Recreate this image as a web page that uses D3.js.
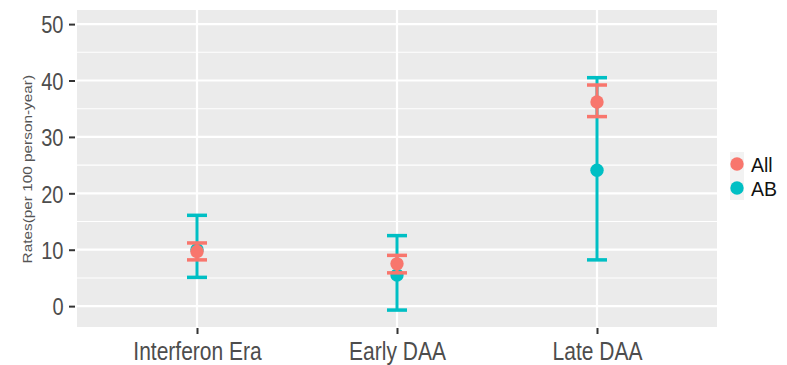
<!DOCTYPE html>
<html>
<head>
<meta charset="utf-8">
<script src="https://cdn.jsdelivr.net/npm/d3@7"></script>
<style>
  body { margin: 0; background: #fff; }
  svg { display: block; font-family: "Liberation Sans", Arial, sans-serif; }
</style>
</head>
<body>
<svg id="chart" width="787" height="365"></svg>
<script>
// Treatment eras on the x axis
const categories = ["Interferon Era", "Early DAA", "Late DAA"];
// Series drawn in this order (AB underneath, All on top)
const seriesNames = ["AB", "All"];
const seriesColors = { All: "#F8766D", AB: "#00BFC4" };
// Rates per 100 person-years with lower / upper confidence limits
const allRate  = [9.7, 7.5, 36.2];
const allLower = [8.2, 5.9, 33.6];
const allUpper = [11.2, 9.0, 39.2];
const abRate   = [10.0, 5.5, 24.1];
const abLower  = [5.1, -0.7, 8.2];
const abUpper  = [16.1, 12.5, 40.5];
const yTicks = [0, 10, 20, 30, 40, 50];
const yMinor = [5, 15, 25, 35, 45];
const legendOrder = ["All", "AB"];

const seriesData = {
  All: categories.map((c, i) => ({ cat: c, v: allRate[i], lo: allLower[i], hi: allUpper[i] })),
  AB:  categories.map((c, i) => ({ cat: c, v: abRate[i],  lo: abLower[i],  hi: abUpper[i] }))
};

// Text is rendered with a slight vertical stretch
const stretch = 1.22;
const xLabelSize = 21;
const yLabelSize = 20;
const legendSize = 19.5;
const legendStretch = 1.06;

const svg = d3.select("#chart");
const panel = { left: 77, right: 717, top: 10, bottom: 327 };

const x = d3.scalePoint().domain(categories)
  .range([panel.left, panel.right]).padding(0.6);
const y = d3.scaleLinear().domain([-3.7, 52.5])
  .range([panel.bottom, panel.top]);

// Panel background
svg.append("rect")
  .attr("x", panel.left).attr("y", panel.top)
  .attr("width", panel.right - panel.left).attr("height", panel.bottom - panel.top)
  .attr("fill", "#EBEBEB");

// Grid lines
svg.append("g").selectAll("line").data(yMinor).join("line")
  .attr("x1", panel.left).attr("x2", panel.right)
  .attr("y1", d => y(d)).attr("y2", d => y(d))
  .attr("stroke", "#fff").attr("stroke-width", 1.1);
svg.append("g").selectAll("line").data(yTicks).join("line")
  .attr("x1", panel.left).attr("x2", panel.right)
  .attr("y1", d => y(d)).attr("y2", d => y(d))
  .attr("stroke", "#fff").attr("stroke-width", 2.2);
svg.append("g").selectAll("line").data(categories).join("line")
  .attr("x1", d => x(d)).attr("x2", d => x(d))
  .attr("y1", panel.top).attr("y2", panel.bottom)
  .attr("stroke", "#fff").attr("stroke-width", 2.2);

// Axes
const yAxis = svg.append("g")
  .attr("transform", `translate(${panel.left - 2},0)`)
  .call(d3.axisLeft(y).tickValues(yTicks).tickSize(6));
const xAxis = svg.append("g")
  .attr("transform", `translate(0,${panel.bottom + 1})`)
  .call(d3.axisBottom(x).tickSize(6));
[yAxis, xAxis].forEach(a => {
  a.select(".domain").remove();
  a.selectAll(".tick line").attr("stroke", "#333").attr("stroke-width", 2);
  a.selectAll(".tick text").attr("fill", "#4D4D4D")
    .attr("font-family", "Liberation Sans, Arial, sans-serif")
    .attr("x", null).attr("y", 0).attr("dy", 0);
});
yAxis.selectAll(".tick text")
  .attr("font-size", yLabelSize)
  .attr("text-anchor", "end")
  .attr("transform", `translate(-11.5,${0.716 * yLabelSize * stretch / 2}) scale(1,${stretch})`);
xAxis.selectAll(".tick text")
  .attr("font-size", xLabelSize)
  .attr("text-anchor", "middle")
  .attr("transform", `translate(0,31.5) scale(1,${stretch})`);

// Y axis title
svg.append("text")
  .attr("transform", `translate(31.5,${(panel.top + panel.bottom) / 2 + 0.7}) scale(1,1.28) rotate(-90)`)
  .attr("text-anchor", "middle")
  .attr("font-size", 12)
  .attr("fill", "#555")
  .text("Rates(per 100 person-year)");

// Error bars and points
const capHalf = 10;
seriesNames.forEach(name => {
  const g = svg.append("g");
  const col = seriesColors[name];
  const d = seriesData[name];
  g.selectAll(".stem").data(d).join("line")
    .attr("x1", e => x(e.cat)).attr("x2", e => x(e.cat))
    .attr("y1", e => y(e.lo)).attr("y2", e => y(e.hi))
    .attr("stroke", col).attr("stroke-width", 3);
  ["lo", "hi"].forEach(k => {
    g.selectAll(".cap-" + k).data(d).join("line")
      .attr("x1", e => x(e.cat) - capHalf).attr("x2", e => x(e.cat) + capHalf)
      .attr("y1", e => y(e[k])).attr("y2", e => y(e[k]))
      .attr("stroke", col).attr("stroke-width", 3.5);
  });
  g.selectAll("circle").data(d).join("circle")
    .attr("cx", e => x(e.cat)).attr("cy", e => y(e.v))
    .attr("r", 6.7).attr("fill", col);
});

// Legend
const legend = svg.append("g").attr("transform", "translate(730,152)");
legendOrder.forEach((name, i) => {
  legend.append("rect")
    .attr("x", 0).attr("y", i * 24).attr("width", 14).attr("height", 24)
    .attr("fill", "#F2F2F2");
  legend.append("circle")
    .attr("cx", 7).attr("cy", i * 24 + 12).attr("r", 6.7)
    .attr("fill", seriesColors[name]);
  legend.append("text")
    .attr("transform", `translate(21,${i * 24 + 19.5}) scale(1,${legendStretch})`)
    .attr("font-size", legendSize).attr("fill", "#111")
    .text(name);
});
</script>
</body>
</html>
